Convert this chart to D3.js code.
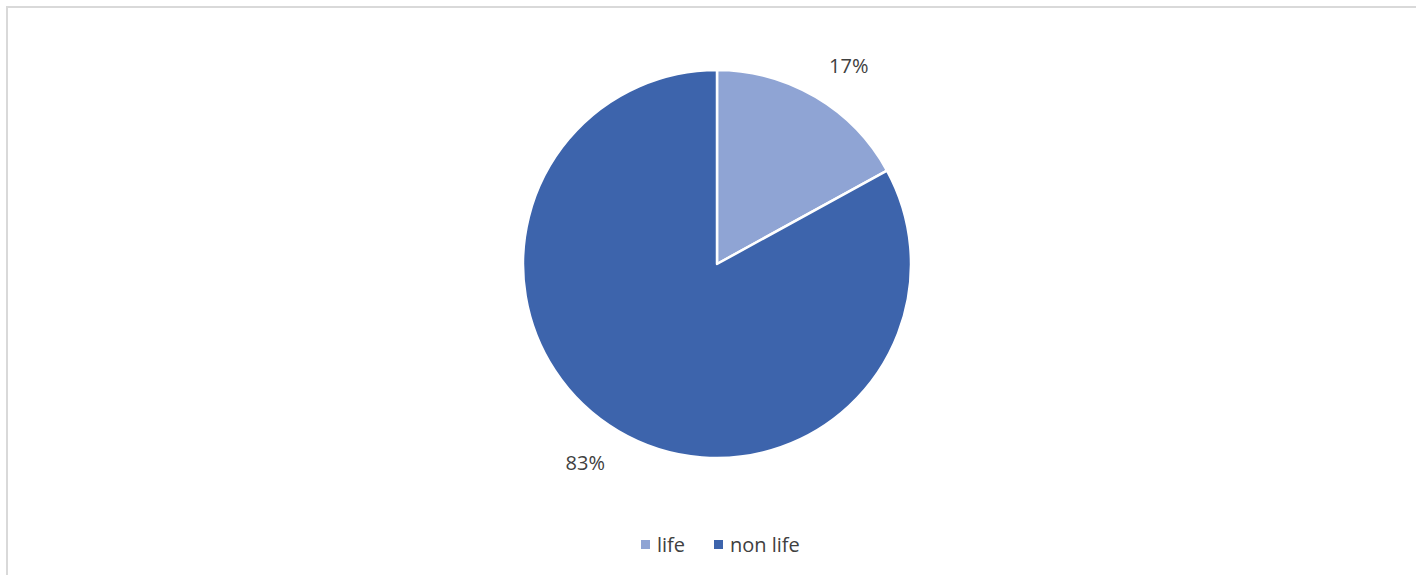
<!DOCTYPE html>
<html>
<head>
<meta charset="utf-8">
<script src="https://cdn.jsdelivr.net/npm/d3@7"></script>
<style>
  html, body { margin: 0; padding: 0; background: #fff; }
  svg { display: block; }
  text { font-family: "Open Sans", "Liberation Sans", sans-serif; fill: #404040; }
</style>
</head>
<body>
<svg id="chart" width="1416" height="575"></svg>
<script>
// Share of business by line
const categories = ["life", "non life"];
const shares = [17, 83];
const colors = ["#8FA4D4", "#3D64AC"];

const svg = d3.select("#chart");
const W = 1416, H = 575;

// chart frame
svg.append("rect")
  .attr("x", 7).attr("y", 7)
  .attr("width", W + 20).attr("height", H + 20)
  .attr("fill", "#fff")
  .attr("stroke", "#d9d9d9").attr("stroke-width", 2);

const cx = 717, cy = 264, radius = 194;

const pie = d3.pie().sort(null).value(d => d.value);
const data = pie(categories.map((c, i) => ({ name: c, value: shares[i] })));

const arc = d3.arc().innerRadius(0).outerRadius(radius);
const g = svg.append("g").attr("transform", `translate(${cx},${cy})`);

g.selectAll("path.slice")
  .data(data)
  .join("path")
  .attr("class", "slice")
  .attr("d", arc)
  .attr("fill", (d, i) => colors[i])
  .attr("stroke", "#fff")
  .attr("stroke-width", 2.5)
  .attr("stroke-linejoin", "round");

// percentage labels just outside each slice, nudged clockwise a little
const labelRadius = 238;
const nudge = 3 * Math.PI / 180;
g.selectAll("text.pct")
  .data(data)
  .join("text")
  .attr("class", "pct")
  .attr("transform", d => {
    const a = (d.startAngle + d.endAngle) / 2 + nudge;
    const x = Math.sin(a) * labelRadius;
    const y = -Math.cos(a) * labelRadius;
    return `translate(${x},${y})`;
  })
  .attr("text-anchor", "middle")
  .attr("dominant-baseline", "central")
  .attr("font-size", 20)
  .text(d => d.data.value + "%");

// legend
const legend = svg.append("g").attr("transform", "translate(641,544)");
const offsets = [0, 73];
categories.forEach((c, i) => {
  const item = legend.append("g").attr("transform", `translate(${offsets[i]},0)`);
  item.append("rect")
    .attr("x", 0).attr("y", -4)
    .attr("width", 9).attr("height", 9)
    .attr("fill", colors[i]);
  item.append("text")
    .attr("x", 16).attr("y", 0)
    .attr("dominant-baseline", "central")
    .attr("font-size", 20)
    .text(c);
});
</script>
</body>
</html>
